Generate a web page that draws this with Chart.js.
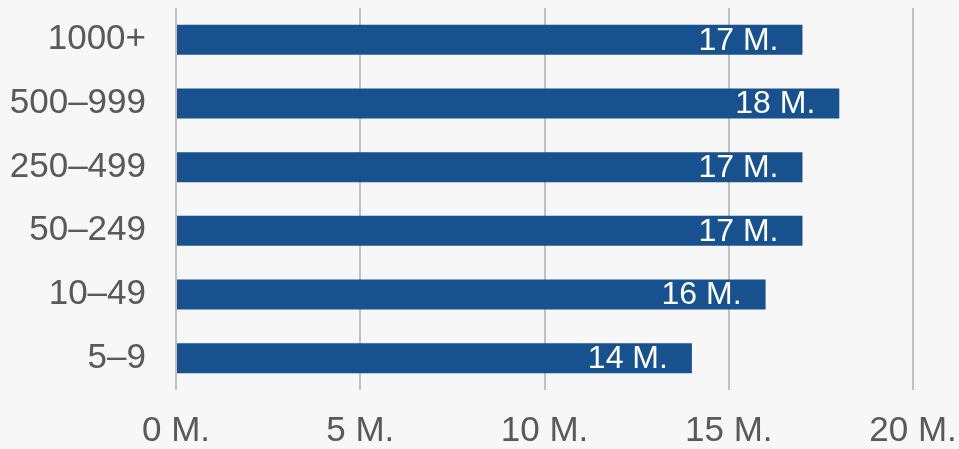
<!DOCTYPE html>
<html>
<head>
<meta charset="utf-8">
<script src="https://cdn.jsdelivr.net/npm/chart.js@4"></script>
<style>
    html, body { margin: 0; padding: 0; background: #f7f7f7; }
    #wrap { width: 959px; height: 449px; position: relative; }
</style>
</head>
<body>
<div id="wrap"><canvas id="sizes"></canvas></div>
<script>
// company size bands and their totals (millions)
var sizeBands = ["1000+", "500–999", "250–499", "50–249", "10–49", "5–9"];
var totals = [17, 18, 17, 17, 16, 14];
var xTicks = [0, 5, 10, 15, 20];

const FONT = "'Liberation Sans', Arial, sans-serif";
const BAR_BLUE = "#17528f";

// white value label just inside the end of each bar
var barLabels = {
    id: "barLabels",
    afterDatasetsDraw: function (chart) {
        var ctx = chart.ctx;
        var meta = chart.getDatasetMeta(0);
        ctx.save();
        ctx.font = "32px " + FONT;
        ctx.fillStyle = "#ffffff";
        ctx.textAlign = "right";
        ctx.textBaseline = "middle";
        meta.data.forEach(function (bar, i) {
            ctx.fillText(totals[i] + " M.", bar.x - 24, bar.y + 1);
        });
        ctx.restore();
    }
};

new Chart(document.getElementById("sizes"), {
    type: "bar",
    data: {
        labels: sizeBands,
        datasets: [{
            data: totals,
            backgroundColor: BAR_BLUE,
            borderWidth: 0,
            barPercentage: 0.47,
            categoryPercentage: 1.0
        }]
    },
    options: {
        indexAxis: "y",
        responsive: true,
        maintainAspectRatio: false,
        animation: false,
        layout: { padding: { top: 8, right: 0, left: 0, bottom: 0 } },
        plugins: {
            legend: { display: false },
            tooltip: { enabled: false }
        },
        scales: {
            x: {
                min: 0,
                max: 20,
                afterBuildTicks: function (axis) {
                    axis.ticks = xTicks.map(function (v) { return { value: v }; });
                },
                afterFit: function (axis) {
                    axis.height = 59;
                    axis.paddingLeft = 0;
                    axis.paddingRight = 46;
                },
                grid: { color: "#c0c0c0", lineWidth: 2, drawTicks: false },
                border: { display: false },
                ticks: {
                    padding: 20,
                    maxRotation: 0,
                    color: "#595959",
                    font: { family: FONT, size: 35 },
                    callback: function (v) { return v + " M."; }
                }
            },
            y: {
                afterFit: function (axis) {
                    axis.width = 176;
                    axis.paddingTop = 0;
                    axis.paddingBottom = 0;
                },
                grid: { display: false, drawTicks: false },
                border: { display: false },
                ticks: {
                    padding: 30,
                    color: "#595959",
                    font: { family: FONT, size: 35 }
                }
            }
        }
    },
    plugins: [barLabels]
});
</script>
</body>
</html>
